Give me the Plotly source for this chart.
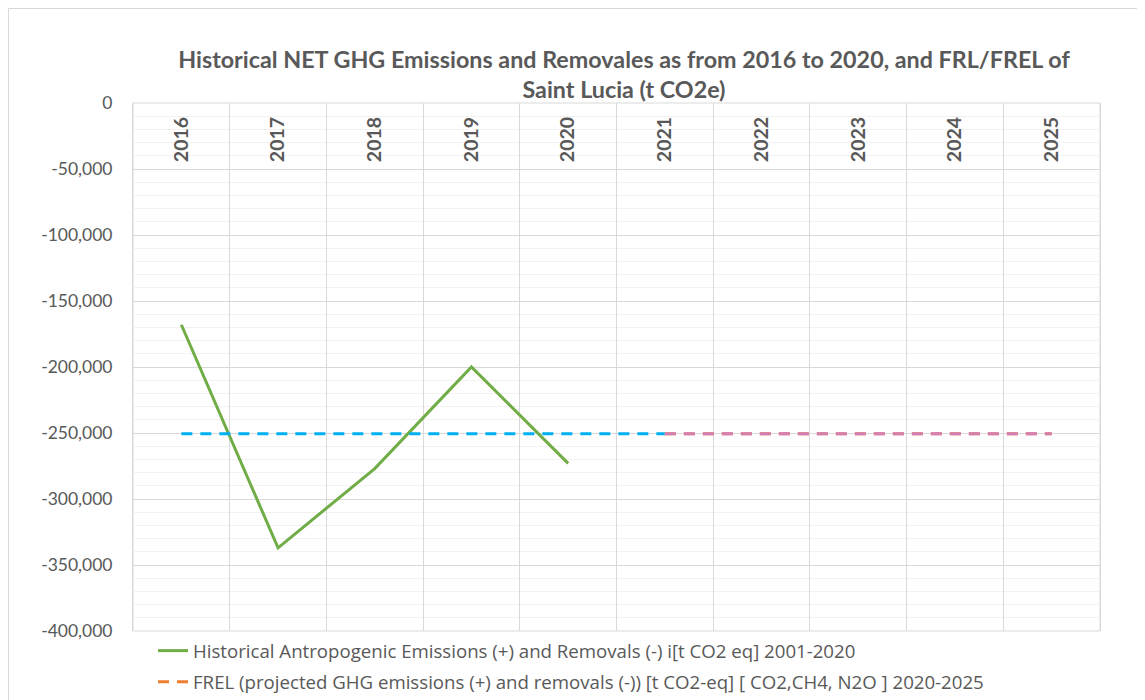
import plotly.graph_objects as go

years = ["2016", "2017", "2018", "2019", "2020", "2021", "2022", "2023", "2024", "2025"]
hist_years = ["2016", "2017", "2018", "2019", "2020"]
hist_values = [-168000, -337000, -277000, -200000, -273000]
frl_hist_years = ["2016", "2017", "2018", "2019", "2020", "2021"]
frl_hist_values = [-250500, -250500, -250500, -250500, -250500, -250500]
frel_years = ["2021", "2022", "2023", "2024", "2025"]
frel_values = [-250500, -250500, -250500, -250500, -250500]
y_ticks = [0, -50000, -100000, -150000, -200000, -250000, -300000, -350000, -400000]

title_text = ("Historical NET GHG Emissions and Removales as from 2016 to 2020, and FRL/FREL of"
              "<br>Saint Lucia (t CO2e)")
name_hist = "Historical Antropogenic Emissions (+) and Removals (-) i[t CO2 eq] 2001-2020"
name_frel = "FREL (projected GHG emissions (+) and removals (-)) [t CO2-eq] [ CO2,CH4, N2O ] 2020-2025"

FONT = "Lato"
GRAY = "#595959"
LINE_GRAY = "#d9d9d9"
DASH = "11px,8px"

fig = go.Figure()

fig.add_trace(go.Scatter(
    x=hist_years, y=hist_values, mode="lines", name=name_hist,
    line=dict(color="#70ad47", width=3), legendgroup="a", showlegend=True))

fig.add_trace(go.Scatter(
    x=frl_hist_years, y=frl_hist_values, mode="lines", name="FRL",
    line=dict(color="#00b0f0", width=3, dash=DASH), showlegend=False))

fig.add_trace(go.Scatter(
    x=frel_years, y=frel_values, mode="lines", name=name_frel,
    line=dict(color="#ed7d31", width=3, dash=DASH), legendgroup="b", showlegend=True))

fig.add_trace(go.Scatter(
    x=frel_years, y=frel_values, mode="lines", name="FREL projected",
    line=dict(color="#d580b5", width=3, dash=DASH), showlegend=False))

OFF = 8  # page offset of the figure
W, H = 1145, 700
# plot area in page pixels
L, R, T, B = 133, 1100, 103, 631
Lf, Rf, Tf, Bf = L - OFF, R - OFF, T - OFF, B - OFF
pw, ph = Rf - Lf, Bf - Tf

def px_x(px):
    return (px - OFF - Lf) / pw

def px_y(py):
    return (Bf - (py - OFF)) / ph

fig.update_layout(
    width=W, height=H,
    margin=dict(l=Lf, r=W - Rf, t=Tf, b=H - Bf, autoexpand=False),
    paper_bgcolor="white", plot_bgcolor="white",
    font=dict(family=FONT, color=GRAY),
    title=dict(text=title_text, xref="paper", x=px_x(624), xanchor="center",
               y=1 - (68 - OFF) / H, yanchor="middle",
               font=dict(family=FONT, size=23.3, color=GRAY, weight="bold")),
    showlegend=True,
    legend=dict(x=px_x(153), xanchor="left", y=px_y(632), yanchor="top",
                orientation="v", traceorder="grouped", tracegroupgap=4,
                font=dict(family="Open Sans", size=18.65, color=GRAY), itemwidth=30,
                bgcolor="rgba(0,0,0,0)"),
    xaxis=dict(type="category", categoryorder="array", categoryarray=years,
               range=[-0.5, len(years) - 0.5], tickson="boundaries",
               side="bottom", anchor="free", position=px_y(112), tickangle=-90,
               tickfont=dict(family=FONT, size=19.5, color=GRAY, weight="bold"),
               showgrid=True, gridcolor=LINE_GRAY, gridwidth=1,
               showline=False, ticks="", zeroline=False, fixedrange=True),
    yaxis=dict(range=[-400000, 0], tickvals=y_ticks,
               ticktext=[f"{v:,}" for v in y_ticks],
               tickfont=dict(family=FONT, size=17.5, color=GRAY),
               ticklabelstandoff=16,
               showgrid=True, gridcolor=LINE_GRAY, gridwidth=1,
               minor=dict(dtick=10000, showgrid=True, gridcolor="#f2f2f2", gridwidth=1),
               showline=True, linecolor=LINE_GRAY, linewidth=1, mirror=True,
               ticks="", zeroline=False, fixedrange=True),
    shapes=[
        dict(type="rect", xref="paper", yref="paper", x0=0, x1=1, y0=0, y1=1,
             line=dict(color=LINE_GRAY, width=1), fillcolor="rgba(0,0,0,0)", layer="below"),
        dict(type="rect", xref="paper", yref="paper",
             x0=px_x(8.5), x1=px_x(1170), y0=px_y(730), y1=px_y(8.5),
             line=dict(color=LINE_GRAY, width=1), fillcolor="rgba(0,0,0,0)", layer="below"),
    ],
)

fig.write_html("out.html")
